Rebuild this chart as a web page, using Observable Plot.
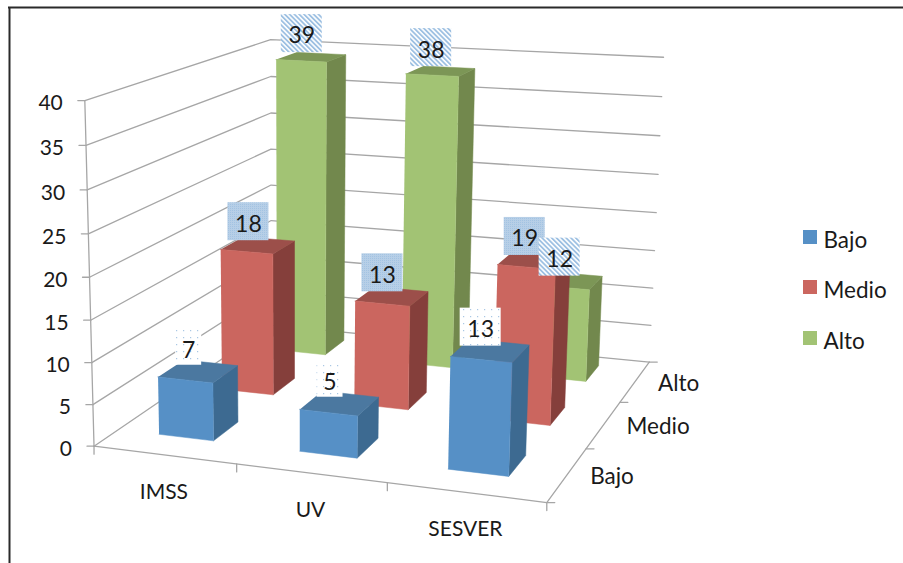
<!DOCTYPE html>
<html>
<head>
<meta charset="utf-8">
<script src="https://cdn.jsdelivr.net/npm/d3@7"></script>
<script src="https://cdn.jsdelivr.net/npm/@observablehq/plot@0.6"></script>
<style>html,body{margin:0;padding:0;background:#fff}svg{display:block}</style>
</head>
<body>
<div id="chart"></div>
<script>
// ---- data ----
const categories = ["IMSS", "UV", "SESVER"];
const seriesNames = ["Bajo", "Medio", "Alto"];
const bajo = [7, 5, 13];
const medio = [18, 13, 19];
const alto = [39, 38, 12];
const valueTicks = [0, 5, 10, 15, 20, 25, 30, 35, 40];
const frontColors = ["#5690c6", "#cb665f", "#a2c374"];
const sideColors = ["#3d6a91", "#853f3b", "#72884d"];
const topColors = ["#4b78a0", "#9c4f4a", "#7c9656"];
const labelFills = ["url(#dots)", "url(#check)", "url(#stripes)"];

// ---- oblique camera: fitted from the eight corners of the chart box ----
const corners = [
  [[0,0,0],[96,443]], [[3,0,0],[546,505]], [[3,3,0],[650,358]], [[0,3,0],[268,328]],
  [[0,0,40],[82,100]], [[0,3,40],[273,38]], [[3,3,40],[662,58]]
];
function fitCamera(pairs) {
  const rows = [], rhs = [];
  for (const [[a,b,c],[x,y]] of pairs) {
    rows.push([a,b,c,1,0,0,0,0,-x*a,-x*b,-x*c]); rhs.push(x);
    rows.push([0,0,0,0,a,b,c,1,-y*a,-y*b,-y*c]); rhs.push(y);
  }
  const n = 11;
  const M = d3.range(n).map(i => [...d3.range(n).map(j => d3.sum(rows, r => r[i]*r[j])), d3.sum(rows, (r,k) => r[i]*rhs[k])]);
  for (let i = 0; i < n; i++) {
    let p = i; for (let k = i+1; k < n; k++) if (Math.abs(M[k][i]) > Math.abs(M[p][i])) p = k;
    [M[i], M[p]] = [M[p], M[i]];
    for (let k = 0; k < n; k++) if (k !== i) { const f = M[k][i]/M[i][i]; for (let j = i; j <= n; j++) M[k][j] -= f*M[i][j]; }
  }
  return M.map((r,i) => r[n]/r[i]);
}
const cam = fitCamera(corners);
const project = (u, w, v) => {
  const d = cam[8]*u + cam[9]*w + cam[10]*v + 1;
  return [(cam[0]*u+cam[1]*w+cam[2]*v+cam[3])/d, (cam[4]*u+cam[5]*w+cam[6]*v+cam[7])/d];
};

// ---- faces of every bar, painted from the back row to the front ----
const halfU = 0.195, halfW = 0.2;
const centreU = i => i + 0.49 - 0.008*i, centreW = j => j + 0.55 + 0.02*j;
const faces = [];
const rowsData = [bajo, medio, alto];
[2,1,0].forEach(row => categories.forEach((cat, i) => {
  const val = rowsData[row][i];
  const u0 = centreU(i)-halfU, u1 = centreU(i)+halfU, w0 = centreW(row)-halfW, w1 = centreW(row)+halfW;
  const quad = (id, color, pts) => pts.forEach(p => {
    const [x,y] = project(...p);
    faces.push({id: `${row}-${i}-${id}`, color, x, y});
  });
  quad("side", sideColors[row], [[u1,w0,0],[u1,w1,0],[u1,w1,val],[u1,w0,val]]);
  quad("top", topColors[row], [[u0,w0,val],[u1,w0,val],[u1,w1,val],[u0,w1,val]]);
  quad("front", frontColors[row], [[u0,w0,0],[u1,w0,0],[u1,w0,val],[u0,w0,val]]);
}));

// ---- axes ----
const grid = [];
valueTicks.forEach(v => [[0,0],[0,3],[3,3]].forEach(([u,w]) => {
  const [x,y] = project(u,w,v); grid.push({id:"g"+v, x, y});
}));
[[0,0,0],[0,0,40]].forEach(p => { const [x,y] = project(...p); grid.push({id:"vaxis", x, y}); });
[[0,0,0],[3,0,0],[3,3,0]].forEach(p => { const [x,y] = project(...p); grid.push({id:"floor", x, y}); });

const tickLine = (pt, dx, dy, id) => [{id, x:pt[0], y:pt[1]}, {id, x:pt[0]+dx, y:pt[1]+dy}];
valueTicks.forEach(v => grid.push(...tickLine(project(0,0,v), -7, 0, "tv"+v)));
[0,1,2,3].forEach(c => grid.push(...tickLine(project(c,0,0), 0, 8, "tc"+c)));
[0,1,2,3].forEach(c => grid.push(...tickLine(project(3,c,0), 8, 0, "td"+c)));

const valueLabels = valueTicks.map(v => { const [x,y] = project(0,0,v); return {text:String(v), x:x-22, y:y+3}; });
const catLabels = categories.map((c,i) => { const [x,y] = project(i+0.5,0,0); return {text:c, x:x-0.5, y:y+37}; });
const depthLabels = seriesNames.map((c,j) => { const [x,y] = project(3,j+0.5,0); return {text:c, x:x+23, y:y+2}; });

// ---- data labels ----
const labels = [];
rowsData.forEach((vals,row) => vals.forEach((val,i) => {
  const [px,py] = project(centreU(i),centreW(row),val);
  const x = px-9.5, y = py-23.5;
  const wide = String(val).length > 1;
  const half = wide ? 20.5 : 13, halfH = wide ? 19 : 17.5;
  labels.push({text:String(val), x, y:y+2.5, x1:x-half, x2:x+half, y1:y-halfH, y2:y+halfH, fill:labelFills[row]});
}));

// ---- legend ----
const legendX = 803, legendY = [230, 280, 331];
const legend = seriesNames.map((s,i) => ({text:s, color:frontColors[i], x1:legendX, x2:legendX+14, y1:legendY[i], y2:legendY[i]+14, tx:legendX+20, ty:legendY[i]+10}));

const defs = () => {
  const d = d3.create("svg:defs");
  const dots = d.append("pattern").attr("id","dots").attr("width",7).attr("height",7).attr("patternUnits","userSpaceOnUse");
  dots.append("rect").attr("width",7).attr("height",7).attr("fill","#fff");
  dots.append("rect").attr("x",1).attr("y",1).attr("width",1.2).attr("height",1.2).attr("fill","#a9c7e4");
  const chk = d.append("pattern").attr("id","check").attr("width",2).attr("height",2).attr("patternUnits","userSpaceOnUse");
  chk.append("rect").attr("width",2).attr("height",2).attr("fill","#b7cfe7");
  chk.append("rect").attr("width",1).attr("height",1).attr("fill","#a3c3e2");
  const st = d.append("pattern").attr("id","stripes").attr("width",3.4).attr("height",3.4).attr("patternUnits","userSpaceOnUse").attr("patternTransform","rotate(-45)");
  st.append("rect").attr("width",3.4).attr("height",3.4).attr("fill","#fff");
  st.append("rect").attr("width",1.8).attr("height",3.4).attr("fill","#9dc0e2");
  return d.node();
};

const font = "Lato, 'Open Sans', sans-serif";
const ink = "#1a1a1a";
const chart = Plot.plot({
  width: 903, height: 563, margin: 0,
  x: {domain:[0,903], range:[0,903], axis:null},
  y: {domain:[0,563], range:[0,563], axis:null},
  color: {type:"identity"},
  style: {background:"#fff", fontFamily:font},
  marks: [
    defs,
    Plot.line(grid, {x:"x", y:"y", z:"id", stroke:"#a6a6a6", strokeWidth:1.3, curve:"linear"}),
    Plot.line(faces, {x:"x", y:"y", z:"id", fill:"color", stroke:"color", strokeWidth:0.5, curve:"linear"}),
    Plot.ruleY([7], {x1:8, x2:903, stroke:"#2a2a2a", strokeWidth:2}),
    Plot.ruleX([9], {y1:7, y2:563, stroke:"#2a2a2a", strokeWidth:2}),
    Plot.text(valueLabels, {x:"x", y:"y", text:"text", textAnchor:"end", fontSize:21, fill:ink}),
    Plot.text(catLabels, {x:"x", y:"y", text:"text", fontSize:21, fill:ink}),
    Plot.text(depthLabels, {x:"x", y:"y", text:"text", textAnchor:"start", fontSize:22.5, fill:ink}),
    ...labels.map(l => Plot.rect([l], {x1:"x1", x2:"x2", y1:"y1", y2:"y2", fill:l.fill})),
    Plot.text(labels, {x:"x", y:"y", text:"text", fontSize:23, fill:ink}),
    Plot.rect(legend, {x1:"x1", x2:"x2", y1:"y1", y2:"y2", fill:"color"}),
    Plot.text(legend, {x:"tx", y:"ty", text:"text", textAnchor:"start", fontSize:22.5, fill:ink})
  ]
});
document.getElementById("chart").append(chart);
</script>
</body>
</html>
